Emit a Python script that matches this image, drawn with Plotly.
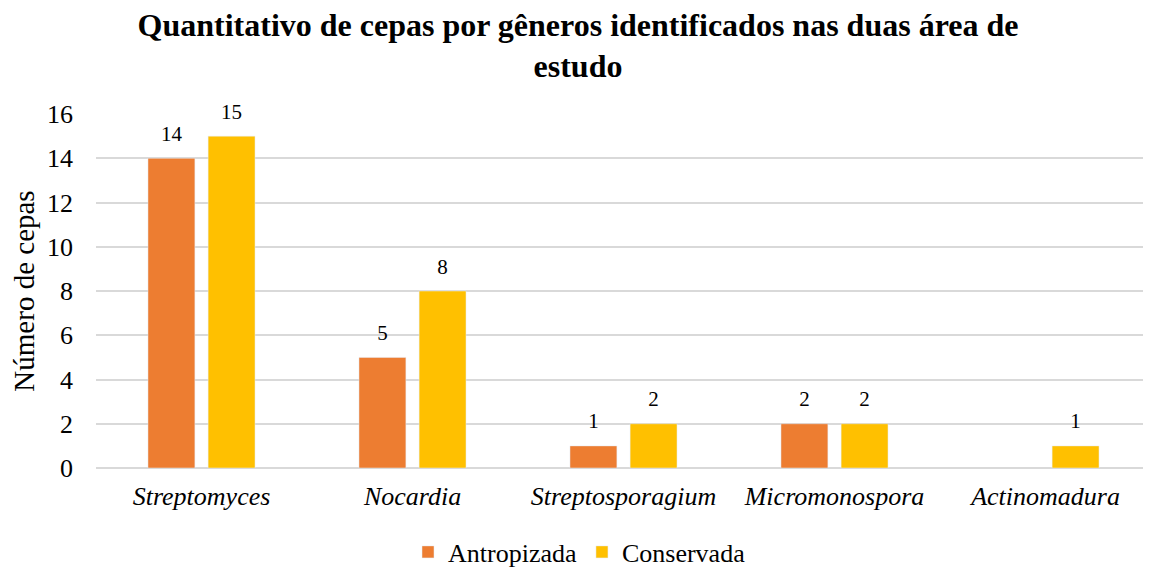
import plotly.graph_objects as go

# Dados
generos = ["Streptomyces", "Nocardia", "Streptosporagium", "Micromonospora", "Actinomadura"]
antropizada = [14, 5, 1, 2, None]
conservada = [15, 8, 2, 2, 1]

rotulos_x = ["<i>%s</i>" % g for g in generos]

fonte = "Liberation Serif, Times New Roman, serif"

series = [
    ("Antropizada", antropizada, "#ED7D31"),
    ("Conservada", conservada, "#FFC000"),
]

fig = go.Figure()
for nome, valores, cor in series:
    fig.add_trace(go.Bar(
        x=rotulos_x, y=valores, name=nome,
        marker=dict(color=cor), offsetgroup=nome,
    ))

# rótulos de dados como texto agrupado (dá para afastar um pouco do topo da barra)
for nome, valores, cor in series:
    fig.add_trace(go.Scatter(
        x=rotulos_x, y=valores, mode="markers+text",
        offsetgroup=nome, showlegend=False, hoverinfo="skip",
        marker=dict(size=18, opacity=0),
        text=[("" if v is None else str(v)) for v in valores],
        textposition="top center", cliponaxis=False,
        textfont=dict(size=21, color="black", family=fonte),
    ))

# a página tem margem de 8px no body, por isso a figura é um pouco menor
fig.update_layout(
    width=1143, height=560,
    paper_bgcolor="white", plot_bgcolor="white",
    font=dict(family=fonte, size=26, color="black"),
    title=dict(
        text="<b>Quantitativo de cepas por gêneros identificados nas duas área de<br>estudo</b>",
        x=0.4987, xanchor="center", xref="container",
        y=0.9506, yanchor="middle", yref="container",
        font=dict(size=32, family=fonte, color="black"),
    ),
    barmode="group", bargap=0.43, bargroupgap=0.22,
    scattermode="group", scattergap=0.43,
    margin=dict(l=88, r=0, t=106, b=100, autoexpand=False),
    showlegend=True,
    legend=dict(
        orientation="h", x=0.5, xanchor="center", xref="container",
        y=0.0286, yanchor="middle", yref="container",
        font=dict(size=26, family=fonte), itemwidth=30,
    ),
)

fig.update_yaxes(
    range=[0, 16], dtick=2, showgrid=True, gridcolor="#D9D9D9", gridwidth=2,
    zeroline=True, zerolinecolor="#D9D9D9", zerolinewidth=2,
    ticks="", ticklabelstandoff=22, automargin=False,
    title=dict(text="Número de cepas", font=dict(size=29), standoff=8),
    tickfont=dict(size=26),
)
fig.update_xaxes(
    showline=False, ticks="", tickfont=dict(size=26), automargin=False,
    ticklabelstandoff=10,
)

fig.write_html("out.html")
